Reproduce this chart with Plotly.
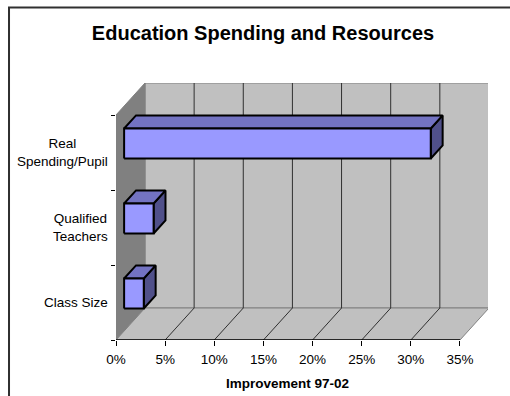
import plotly.graph_objects as go

# ---- data ----
categories = ["Class Size", "Qualified Teachers", "Real Spending/Pupil"]
category_labels = ["Class Size", "Qualified<br>Teachers", "Real<br>Spending/Pupil"]
values = [2.0, 3.0, 31.2]          # improvement 97-02, percent
x_tick_values = [0, 5, 10, 15, 20, 25, 30, 35]
x_tick_labels = ["0%", "5%", "10%", "15%", "20%", "25%", "30%", "35%"]
title_text = "Education Spending and Resources"
x_title = "Improvement 97-02"

# ---- 3D geometry (in data units) ----
XMAX = 35.0
NCAT = len(categories)
DX, DY = 2.95, 0.4267        # depth offset of back wall
D0, D1 = 0.28, 0.69          # bar depth span (fraction of depth)
HALF = 0.2                   # half bar thickness in category units

FONT = "Liberation Sans, Arial, sans-serif"
fig = go.Figure()


def poly(xs, ys, fill, line="#808080", width=1):
    fig.add_trace(go.Scatter(
        x=list(xs) + [xs[0]], y=list(ys) + [ys[0]], mode="lines",
        fill="toself", fillcolor=fill, line=dict(color=line, width=width),
        hoverinfo="skip", showlegend=False))


def seg(x0, y0, x1, y1, color, width=1):
    fig.add_trace(go.Scatter(
        x=[x0, x1], y=[y0, y1], mode="lines",
        line=dict(color=color, width=width),
        hoverinfo="skip", showlegend=False))


# walls
poly([DX, XMAX + DX, XMAX + DX, DX], [DY, DY, NCAT + DY, NCAT + DY], "#C0C0C0")
poly([0, DX, DX, 0], [0, DY, NCAT + DY, NCAT], "#808080")
poly([0, XMAX, XMAX + DX, DX], [0, 0, DY, DY], "#C0C0C0")

# gridlines on back wall and floor
for xv in x_tick_values[1:-1]:
    seg(xv + DX, DY, xv + DX, NCAT + DY, "#303030", 1)
    seg(xv, 0, xv + DX, DY, "#303030", 1)

# axis line in front
seg(0, 0, XMAX, 0, "#000000", 1.5)

# bars
sx0, sy0 = D0 * DX, D0 * DY
sx1, sy1 = D1 * DX, D1 * DY
for i, v in enumerate(values):
    c = i + 0.5
    lo, hi = c - HALF, c + HALF
    # side face
    poly([v + sx0, v + sx0, v + sx1, v + sx1],
         [lo + sy0, hi + sy0, hi + sy1, lo + sy1], "#50508A", "#000000", 2)
    # top face
    poly([sx0, v + sx0, v + sx1, sx1],
         [hi + sy0, hi + sy0, hi + sy1, hi + sy1], "#7373C2", "#000000", 2)
    # front face
    poly([sx0, v + sx0, v + sx0, sx0],
         [lo + sy0, lo + sy0, hi + sy0, hi + sy0], "#9999FF", "#000000", 2)

# category labels
for i, lab in enumerate(category_labels):
    fig.add_annotation(x=-0.017, xref="paper", y=i + 0.5, yref="y",
                       text=lab, showarrow=False, xanchor="right",
                       yanchor="middle", align="center",
                       font=dict(family=FONT, size=13.5, color="#000000"))

# axis title
fig.add_annotation(x=XMAX / 2, xref="x", y=-0.171, yref="paper",
                   text="<b>%s</b>" % x_title, showarrow=False,
                   xanchor="center", yanchor="middle",
                   font=dict(family=FONT, size=13.5, color="#000000"))

# outer border
fig.add_shape(type="rect", xref="paper", yref="paper",
              x0=-0.2876, y0=-1.0, x1=2.0, y1=1.2938,
              line=dict(color="#303030", width=2), fillcolor="rgba(0,0,0,0)")

fig.update_layout(
    width=510, height=396,
    margin=dict(l=116, r=22, t=83, b=56),
    paper_bgcolor="#FFFFFF", plot_bgcolor="rgba(0,0,0,0)",
    title=dict(text="<b>%s</b>" % title_text, x=263 / 510, xref="container",
               xanchor="center", y=1 - 33 / 396, yanchor="middle",
               font=dict(family=FONT, size=20, color="#000000")),
    xaxis=dict(range=[0, 37.85], tickvals=x_tick_values, ticktext=x_tick_labels,
               ticks="outside", ticklen=5, tickcolor="#000000", tickwidth=1,
               ticklabelstandoff=2,
               showgrid=False, zeroline=False, showline=False,
               tickfont=dict(family=FONT, size=13.5, color="#000000"),
               fixedrange=True),
    yaxis=dict(range=[0, NCAT + DY], tickvals=[0, 1, 2, 3], ticks="outside",
               ticklen=4, tickcolor="#000000", showticklabels=False,
               showgrid=False, zeroline=False, showline=False, fixedrange=True),
    showlegend=False,
)

fig.write_html("out.html", config={"displayModeBar": False},
               post_script="document.body.style.margin='0';"
                           "document.body.style.overflow='hidden';")
